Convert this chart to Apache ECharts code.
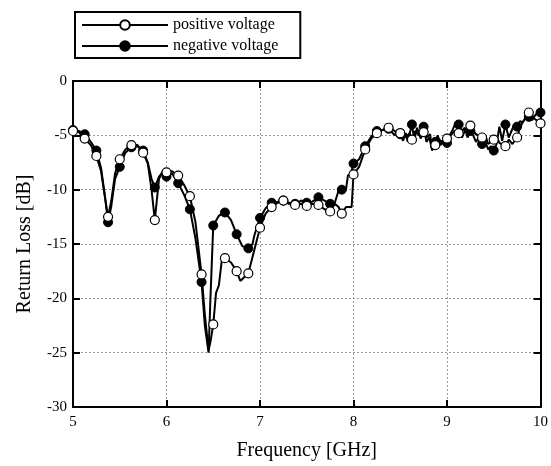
<!DOCTYPE html>
<html>
<head>
<meta charset="utf-8">
<script src="https://cdn.jsdelivr.net/npm/echarts@6/dist/echarts.min.js"></script>
<style>
  html, body { margin: 0; padding: 0; background: #fff; }
  #chart { width: 551px; height: 466px; }
</style>
</head>
<body>
<div id="chart"></div>
<script>
// Return loss measurements, [frequency GHz, dB]
const positiveVoltage = [
  [5.000,-4.6],[5.0625,-4.7],[5.125,-5.3],[5.19,-5.9],[5.25,-6.9],[5.30,-8.3],[5.34,-10.6],
  [5.375,-12.5],[5.41,-11.0],[5.45,-8.5],[5.5,-7.2],[5.56,-6.3],[5.625,-5.9],[5.69,-5.9],
  [5.75,-6.6],[5.80,-7.6],[5.84,-10.0],[5.875,-12.8],[5.92,-9.0],[5.96,-8.3],[6.0,-8.4],
  [6.06,-8.3],[6.125,-8.7],[6.19,-9.6],[6.25,-10.6],[6.31,-13.0],[6.375,-17.8],[6.41,-21.5],
  [6.45,-24.8],[6.47,-24.0],[6.5,-22.4],[6.53,-19.5],[6.56,-18.8],[6.59,-16.6],[6.625,-16.3],
  [6.69,-16.7],[6.75,-17.5],[6.79,-18.4],[6.875,-17.7],[6.92,-16.2],[7.0,-13.5],[7.06,-12.2],
  [7.125,-11.6],[7.19,-11.2],[7.25,-11.0],[7.31,-11.3],[7.375,-11.4],[7.44,-11.3],[7.5,-11.5],
  [7.56,-11.3],[7.625,-11.4],[7.69,-11.8],[7.75,-12.0],[7.8,-11.3],[7.84,-11.6],[7.875,-12.2],
  [7.92,-11.6],[7.98,-11.6],[8.0,-8.6],[8.06,-7.9],[8.125,-6.3],[8.19,-5.3],[8.25,-4.8],
  [8.31,-4.5],[8.375,-4.3],[8.44,-4.6],[8.5,-4.8],[8.53,-4.5],[8.56,-5.2],[8.6,-4.8],
  [8.625,-5.4],[8.66,-4.6],[8.7,-5.0],[8.75,-4.7],[8.78,-5.2],[8.82,-4.9],[8.84,-6.4],
  [8.875,-5.9],[8.9,-5.2],[8.94,-5.6],[9.0,-5.3],[9.04,-5.0],[9.08,-4.6],[9.125,-4.8],
  [9.16,-5.2],[9.2,-4.4],[9.25,-4.1],[9.28,-4.6],[9.31,-4.9],[9.375,-5.2],[9.41,-5.0],
  [9.44,-5.8],[9.5,-5.4],[9.53,-5.1],[9.56,-5.7],[9.625,-6.0],[9.66,-5.4],[9.7,-5.8],
  [9.75,-5.2],[9.78,-4.3],[9.81,-3.8],[9.84,-3.4],[9.875,-2.9],[9.91,-3.3],[9.94,-3.5],
  [9.97,-3.7],[10.0,-3.9]
];

const negativeVoltage = [
  [5.000,-4.5],[5.0625,-4.6],[5.125,-4.9],[5.19,-5.6],[5.25,-6.4],[5.30,-8.0],[5.34,-10.5],
  [5.375,-13.0],[5.41,-11.5],[5.45,-9.0],[5.5,-7.9],[5.56,-6.6],[5.625,-6.1],[5.69,-6.0],
  [5.75,-6.4],[5.80,-7.5],[5.84,-9.0],[5.875,-9.8],[5.92,-8.8],[5.96,-8.4],[6.0,-8.8],
  [6.06,-8.5],[6.125,-9.4],[6.19,-10.5],[6.25,-11.8],[6.31,-14.5],[6.375,-18.5],[6.41,-22.5],
  [6.45,-25.0],[6.47,-20.0],[6.5,-13.3],[6.56,-12.4],[6.625,-12.1],[6.69,-12.8],[6.75,-14.1],
  [6.81,-15.2],[6.875,-15.4],[6.92,-15.0],[6.94,-14.2],[7.0,-12.6],[7.06,-11.7],[7.125,-11.2],
  [7.19,-11.1],[7.25,-11.0],[7.31,-11.2],[7.375,-11.3],[7.44,-11.0],[7.5,-11.2],[7.56,-11.1],
  [7.625,-10.7],[7.69,-11.0],[7.75,-11.3],[7.8,-11.2],[7.84,-10.1],[7.875,-10.0],[7.92,-10.0],
  [7.94,-8.7],[7.97,-8.6],[8.0,-7.6],[8.06,-7.2],[8.125,-6.0],[8.19,-5.1],[8.25,-4.6],
  [8.31,-4.5],[8.375,-4.4],[8.40,-4.6],[8.44,-5.0],[8.47,-4.5],[8.5,-4.9],[8.53,-5.5],
  [8.56,-4.8],[8.58,-5.6],[8.625,-4.0],[8.65,-5.4],[8.68,-4.3],[8.72,-5.3],[8.75,-4.2],
  [8.78,-5.6],[8.81,-5.2],[8.84,-6.3],[8.875,-5.6],[8.90,-5.0],[8.93,-5.9],[8.96,-5.5],
  [9.0,-5.7],[9.03,-5.0],[9.06,-4.5],[9.09,-3.9],[9.125,-4.0],[9.16,-4.6],[9.19,-4.3],
  [9.22,-5.2],[9.25,-4.6],[9.28,-5.0],[9.31,-5.6],[9.34,-5.2],[9.375,-5.8],[9.41,-5.6],
  [9.44,-6.3],[9.47,-6.0],[9.5,-6.4],[9.53,-5.8],[9.56,-4.2],[9.59,-5.5],[9.625,-4.0],
  [9.66,-5.2],[9.69,-4.6],[9.72,-4.0],[9.75,-4.2],[9.78,-3.7],[9.81,-3.8],[9.84,-3.4],
  [9.875,-3.3],[9.91,-3.6],[9.94,-3.2],[9.97,-2.9],[10.0,-2.9]
];

// Markers sit on every 0.125 GHz sample
const markerStep = 0.125;
const seriesNames = ['positive voltage', 'negative voltage'];

const FONT = 'Liberation Serif';
function onMarkerGrid(f) {
  const k = f / markerStep;
  return Math.abs(k - Math.round(k)) < 1e-6;
}

const chart = echarts.init(document.getElementById('chart'), null, { renderer: 'canvas' });

const boxAxisX = {
  type: 'value', min: 5, max: 10, interval: 1,
  axisLine: { show: true, onZero: false, lineStyle: { color: '#000', width: 2 } },
  axisTick: { show: true, inside: true, length: 7, lineStyle: { color: '#000', width: 2 } },
  splitLine: { show: false }
};
const boxAxisY = {
  type: 'value', min: -30, max: 0, interval: 5,
  axisLine: { show: true, onZero: false, lineStyle: { color: '#000', width: 2 } },
  axisTick: { show: true, inside: true, length: 7, lineStyle: { color: '#000', width: 2 } },
  splitLine: { show: false }
};

const option = {
  backgroundColor: '#fff',
  animation: false,
  grid: { left: 73, right: 9, top: 81, bottom: 59, containLabel: false },
  legend: {
    orient: 'vertical',
    left: 75, top: 12,
    data: seriesNames,
    itemWidth: 86, itemHeight: 12,
    itemGap: 5,
    padding: [5, 22, 4, 6],
    borderColor: '#000', borderWidth: 2,
    textStyle: { fontFamily: FONT, fontSize: 16, color: '#000' }
  },
  xAxis: [
    Object.assign({}, boxAxisX, {
      position: 'bottom',
      name: 'Frequency [GHz]', nameLocation: 'middle', nameGap: 34,
      nameTextStyle: { fontFamily: FONT, fontSize: 20, color: '#000' },
      axisLabel: { fontFamily: FONT, fontSize: 15, color: '#000', margin: 8 },
      splitLine: { show: true, lineStyle: { color: '#9a9a9a', type: [2, 2], width: 1 } }
    }),
    Object.assign({}, boxAxisX, { position: 'top', axisLabel: { show: false } })
  ],
  yAxis: [
    Object.assign({}, boxAxisY, {
      position: 'left',
      name: 'Return Loss [dB]', nameLocation: 'middle', nameGap: 38,
      nameTextStyle: { fontFamily: FONT, fontSize: 20, color: '#000' },
      axisLabel: { fontFamily: FONT, fontSize: 15, color: '#000', margin: 6 },
      splitLine: { show: true, lineStyle: { color: '#9a9a9a', type: [2, 2], width: 1 } }
    }),
    Object.assign({}, boxAxisY, { position: 'right', axisLabel: { show: false } })
  ],
  series: [
    {
      name: seriesNames[1],
      type: 'line',
      data: negativeVoltage,
      showAllSymbol: true,
      symbol: 'circle',
      symbolSize: (v) => onMarkerGrid(v[0]) ? 9 : 0,
      lineStyle: { color: '#000', width: 2 },
      itemStyle: { color: '#000', borderColor: '#000', borderWidth: 1 },
      z: 2
    },
    {
      name: seriesNames[0],
      type: 'line',
      data: positiveVoltage,
      showAllSymbol: true,
      symbol: 'circle',
      symbolSize: (v) => onMarkerGrid(v[0]) ? 9 : 0,
      lineStyle: { color: '#000', width: 2 },
      itemStyle: { color: '#fff', borderColor: '#000', borderWidth: 1.2 },
      z: 3
    }
  ]
};

chart.setOption(option);
</script>
</body>
</html>
